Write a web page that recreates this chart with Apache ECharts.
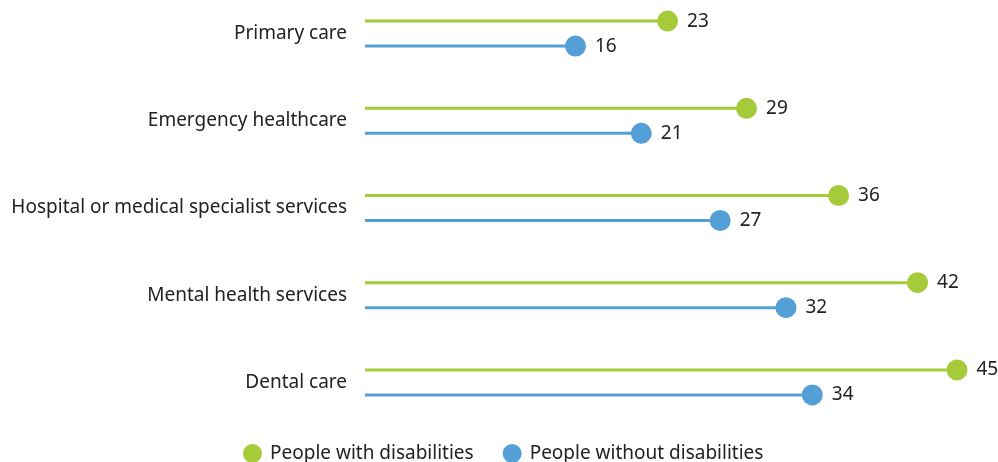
<!DOCTYPE html>
<html>
<head>
<meta charset="utf-8">
<script src="https://cdn.jsdelivr.net/npm/echarts@6/dist/echarts.min.js"></script>
<style>
  html, body { margin: 0; padding: 0; background: #fff; }
  #chart { width: 998px; height: 462px; }
</style>
</head>
<body>
<div id="chart"></div>
<script>
// Share of people reporting unmet need, by service type
const categories = [
  'Primary care',
  'Emergency healthcare',
  'Hospital or medical specialist services',
  'Mental health services',
  'Dental care'
];
const withDisabilities = [23, 29, 36, 42, 45];
const withoutDisabilities = [16, 21, 27, 32, 34];

const GREEN = '#a5cb3b';
const BLUE = '#549fd6';
const FONT = '"Noto Sans", sans-serif';
const FONT_SIZE = 19;

const chart = echarts.init(document.getElementById('chart'));

chart.setOption({
  animation: false,
  textStyle: { fontFamily: FONT },
  grid: { left: 365, right: 41, top: -10, height: 436, outerBoundsMode: 'none', containLabel: false },
  xAxis: {
    type: 'value', min: 0, max: 45,
    show: false
  },
  yAxis: {
    type: 'category',
    data: categories,
    inverse: true,
    axisLine: { show: false },
    axisTick: { show: false },
    splitLine: { show: false },
    axisLabel: { color: '#222', fontSize: FONT_SIZE, fontFamily: FONT, margin: 18 }
  },
  legend: {
    bottom: -6,
    left: 238,
    icon: 'circle',
    itemWidth: 25,
    itemHeight: 19,
    itemGap: 29,
    textStyle: { color: '#222', fontSize: FONT_SIZE, fontFamily: FONT },
    data: ['People with disabilities', 'People without disabilities']
  },
  series: [
    {
      name: 'People with disabilities',
      type: 'bar',
      data: withDisabilities,
      barWidth: 3,
      barGap: '733%',
      itemStyle: { color: GREEN },
      silent: true
    },
    {
      name: 'People without disabilities',
      type: 'bar',
      data: withoutDisabilities,
      barWidth: 3,
      itemStyle: { color: BLUE },
      silent: true
    },
    {
      name: 'People with disabilities',
      type: 'scatter',
      data: withDisabilities,
      symbol: 'circle',
      symbolSize: 21,
      symbolOffset: [0, -12.5],
      itemStyle: { color: GREEN, opacity: 1 },
      label: {
        show: true, position: 'right', distance: 9,
        color: '#222', fontSize: FONT_SIZE, fontFamily: FONT
      }
    },
    {
      name: 'People without disabilities',
      type: 'scatter',
      data: withoutDisabilities,
      symbol: 'circle',
      symbolSize: 21,
      symbolOffset: [0, 12.5],
      itemStyle: { color: BLUE, opacity: 1 },
      label: {
        show: true, position: 'right', distance: 9,
        color: '#222', fontSize: FONT_SIZE, fontFamily: FONT
      }
    }
  ]
});
</script>
</body>
</html>
